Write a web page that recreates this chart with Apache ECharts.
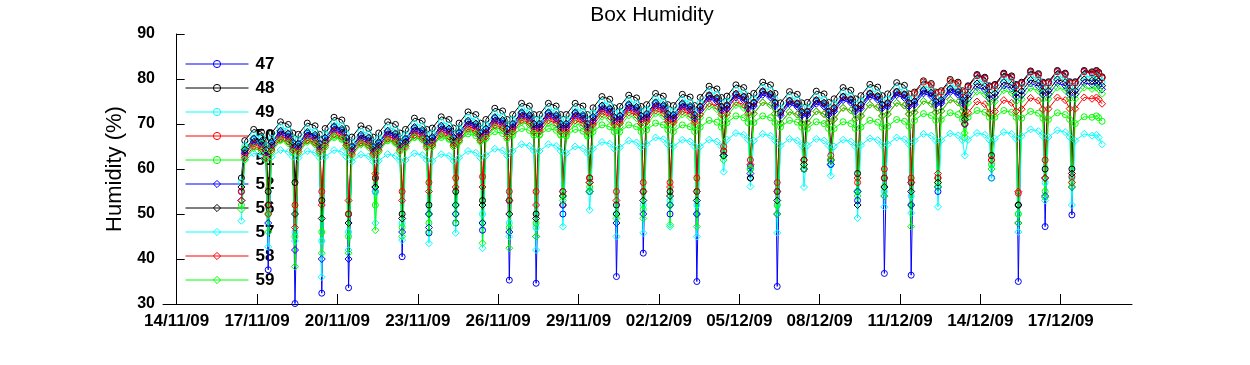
<!DOCTYPE html>
<html><head><meta charset="utf-8">
<script src="https://cdn.jsdelivr.net/npm/echarts@6/dist/echarts.min.js"></script>
<style>html,body{margin:0;padding:0;background:#fff;}#c{width:1250px;height:365px;}</style>
</head><body><div id="c"></div>
<script>
// x axis: days since 14/11/09 00:00
const xTickDays = [0,3,6,9,12,15,18,21,24,27,30,33];
const xTickLabels = ['14/11/09','17/11/09','20/11/09','23/11/09','26/11/09','29/11/09','02/12/09','05/12/09','08/12/09','11/12/09','14/12/09','17/12/09'];
const yTicks = [30,40,50,60,70,80,90];
// each row = one day (16/11 .. 18/12), values sampled at these hours of the day
const sampleHours = [4, 8, 10, 13, 21];
const firstDay = 2;

const s47 = [
[null,null,55,64.0,66.5],[65.9,64.0,37.6,65.7,68.2],[67.6,65.7,30.1,65.4,67.9],[67.3,65.4,32.4,66.7,69.2],
[68.6,66.7,33.6,64.8,67.3],[66.7,64.8,55,65.7,68.2],[67.6,65.7,40.5,66.5,69.0],[68.4,66.5,45.8,66.8,69.3],
[68.7,66.8,48,67.9,70.4],[69.8,67.9,46.4,68.7,71.2],[70.6,68.7,35.3,69.8,72.3],[71.7,69.8,34.6,69.8,72.3],
[71.7,69.8,50,69.8,72.3],[71.7,69.8,55,71.3,73.8],[73.2,71.3,36.1,71.6,74.1],[73.5,71.6,41.3,72.0,74.5],
[73.9,72.0,50,71.8,74.3],[73.7,71.8,35,73.6,76.1],[75.5,73.6,63,73.9,76.4],[75.8,73.9,60.6,74.5,77.0],
[76.4,74.5,33.9,72.4,74.9],[74.3,72.4,60,72.5,75.0],[74.4,72.5,61,73.3,75.8],[75.2,73.3,53,74.0,76.5],
[75.9,74.0,36.8,74.4,76.9],[76.3,74.4,36.4,74.8,77.3],[76.7,74.8,55,75.1,77.6],[77.0,75.1,70,78.3,80.8],
[80.2,78.3,58,78.6,81.1],[80.5,78.6,35,79.1,81.6],[81.0,79.1,47.2,79.2,81.7],[81.1,79.2,49.8,79.2,81.7],
[81.4,81.7,81.3,80.3,null]];
const s48 = [
[null,null,58,66.3,68.8],[68.2,66.3,55,68.0,70.5],[69.9,68.0,57,67.7,70.2],[69.6,67.7,53,69.0,71.5],
[70.9,69.0,50,67.1,69.6],[69.0,67.1,58,68.0,70.5],[69.9,68.0,50,68.8,71.3],[70.7,68.8,52,69.1,71.6],
[71.0,69.1,55,70.2,72.7],[72.1,70.2,53,71.0,73.5],[72.9,71.0,53,72.1,74.6],[74.0,72.1,50,72.1,74.6],
[74.0,72.1,55,72.1,74.6],[74.0,72.1,58,73.6,76.1],[75.5,73.6,52,73.9,76.4],[75.8,73.9,55,74.3,76.8],
[76.2,74.3,55,74.1,76.6],[76.0,74.1,55,75.9,78.4],[77.8,75.9,64,76.2,78.7],[78.1,76.2,58,76.8,79.3],
[78.7,76.8,55,74.7,77.2],[76.6,74.7,62,74.8,77.3],[76.7,74.8,62,75.6,78.1],[77.5,75.6,59,76.3,78.8],
[78.2,76.3,58,76.7,79.2],[78.6,76.7,57,77.1,79.6],[79.0,77.1,58,77.4,79.9],[79.3,77.4,72,78.5,81.0],
[80.4,78.5,63,78.8,81.3],[80.7,78.8,52,79.3,81.8],[81.2,79.3,60,79.4,81.9],[81.3,79.4,60,79.4,81.9],
[81.6,81.9,81.5,80.5,null]];
const s49 = [
[null,null,57,65.1,67.6],[67.0,65.1,50,66.8,69.3],[68.7,66.8,46,66.5,69.0],[68.4,66.5,44,67.8,70.3],
[69.7,67.8,46,65.9,68.4],[67.8,65.9,55,66.8,69.3],[68.7,66.8,48,67.6,70.1],[69.5,67.6,50,67.9,70.4],
[69.8,67.9,52,69.0,71.5],[70.9,69.0,50,69.8,72.3],[71.7,69.8,48,70.9,73.4],[72.8,70.9,47,70.9,73.4],
[72.8,70.9,52,70.9,73.4],[72.8,70.9,55,72.4,74.9],[74.3,72.4,50,72.7,75.2],[74.6,72.7,52,73.1,75.6],
[75.0,73.1,53,72.9,75.4],[74.8,72.9,52,74.7,77.2],[76.6,74.7,63,75.0,77.5],[76.9,75.0,60,75.6,78.1],
[77.5,75.6,52,73.5,76.0],[75.4,73.5,60,73.6,76.1],[75.5,73.6,61,74.4,76.9],[76.3,74.4,55,75.1,77.6],
[77.0,75.1,55,75.5,78.0],[77.4,75.5,54,75.9,78.4],[77.8,75.9,56,76.2,78.7],[78.1,76.2,71,77.3,79.8],
[79.2,77.3,61,77.6,80.1],[79.5,77.6,50,78.1,80.6],[80.0,78.1,57,78.2,80.7],[80.1,78.2,58,78.2,80.7],
[80.4,80.7,80.3,79.3,null]];
const s50 = [
[null,null,55,63.1,65.6],[65.0,63.1,52,64.8,67.3],[66.7,64.8,52,64.5,67.0],[66.4,64.5,55,65.8,68.3],
[67.7,65.8,50,63.9,66.4],[65.8,63.9,58,64.8,67.3],[66.7,64.8,55,65.6,68.1],[67.5,65.6,57,65.9,68.4],
[67.8,65.9,58,67.0,69.5],[68.9,67.0,58.3,67.8,70.3],[69.7,67.8,55,68.9,71.4],[70.8,68.9,55,68.9,71.4],
[70.8,68.9,52,68.9,71.4],[70.8,68.9,58,70.4,72.9],[72.3,70.4,55,70.7,73.2],[72.6,70.7,57,71.1,73.6],
[73.0,71.1,57,70.9,73.4],[72.8,70.9,58,73.9,76.4],[75.8,73.9,65,74.2,76.7],[76.1,74.2,62,74.8,77.3],
[76.7,74.8,57,72.7,75.2],[74.6,72.7,60,72.8,75.3],[74.7,72.8,63,73.6,76.1],[75.5,73.6,57,74.3,76.8],
[76.2,74.3,60,74.7,77.2],[76.6,74.7,58,76.8,79.3],[78.7,76.8,58,77.1,79.6],[79.0,77.1,72,78.2,80.7],
[80.1,78.2,62,78.5,81.0],[80.4,78.5,54.6,79.0,81.5],[80.9,79.0,62,79.1,81.6],[81.0,79.1,58.3,79.1,81.6],
[81.3,81.6,81.2,80.2,null]];
const s51 = [
[null,null,52,64.5,66.0],[65.6,64.5,50,65.0,66.5],[66.1,65.0,45,64.8,66.3],[65.9,64.8,46,65.5,67.0],
[66.6,65.5,45,64.3,65.8],[65.4,64.3,52,64.8,66.3],[65.9,64.8,47,65.5,67.0],[66.6,65.5,48,65.5,67.0],
[66.6,65.5,50,66.3,67.8],[67.4,66.3,48,66.8,68.3],[67.9,66.8,47,67.5,69.0],[68.6,67.5,48,67.5,69.0],
[68.6,67.5,54,67.3,68.8],[68.4,67.3,56,68.3,69.8],[69.4,68.3,50,68.3,69.8],[69.4,68.3,51,68.7,70.2],
[69.8,68.7,52,68.3,69.8],[69.4,68.3,50,69.3,70.8],[70.4,69.3,63,70.3,71.8],[71.4,70.3,60,70.3,71.8],
[71.4,70.3,52,69.3,70.8],[70.4,69.3,61,69.0,70.5],[70.1,69.0,62,69.0,70.5],[70.1,69.0,55,69.3,70.8],
[70.4,69.3,56,69.5,71.0],[70.6,69.5,52,70.8,72.3],[71.9,70.8,57,71.0,72.5],[72.1,71.0,67,71.5,73.0],
[72.6,71.5,61,71.5,73.0],[72.6,71.5,50,71.3,72.8],[72.4,71.3,55,71.0,72.5],[72.1,71.0,57,70.1,71.6],
[71.5,71.8,71.4,70.6,null]];
const s52 = [
[null,null,53,63.5,66.0],[65.4,63.5,48,65.2,67.7],[67.1,65.2,42,64.9,67.4],[66.8,64.9,40,66.2,68.7],
[68.1,66.2,40,64.3,66.8],[66.2,64.3,56,65.2,67.7],[67.1,65.2,46,66.0,68.5],[67.9,66.0,47,66.3,68.8],
[68.2,66.3,50,67.4,69.9],[69.3,67.4,48,68.2,70.7],[70.1,68.2,46,69.3,71.8],[71.2,69.3,45,69.3,71.8],
[71.2,69.3,52,69.3,71.8],[71.2,69.3,55,70.8,73.3],[72.7,70.8,48,71.1,73.6],[73.0,71.1,50,71.5,74.0],
[73.4,71.5,52,71.3,73.8],[73.2,71.3,50,73.1,75.6],[75.0,73.1,63,73.4,75.9],[75.3,73.4,59,74.0,76.5],
[75.9,74.0,50,71.9,74.4],[73.8,71.9,60,72.0,74.5],[73.9,72.0,61,72.8,75.3],[74.7,72.8,55,73.5,76.0],
[75.4,73.5,54,73.9,76.4],[75.8,73.9,52,74.3,76.8],[76.2,74.3,56,74.6,77.1],[76.5,74.6,70,75.7,78.2],
[77.6,75.7,60,76.0,78.5],[77.9,76.0,48,76.5,79.0],[78.4,76.5,54,76.6,79.1],[78.5,76.6,56,76.6,79.1],
[78.8,79.1,78.7,77.7,null]];
const s56 = [
[null,null,56,64.3,66.8],[66.2,64.3,52,66.0,68.5],[67.9,66.0,50,65.7,68.2],[67.6,65.7,49,67.0,69.5],
[68.9,67.0,48,65.1,67.6],[67.0,65.1,56,66.0,68.5],[67.9,66.0,49,66.8,69.3],[68.7,66.8,50,67.1,69.6],
[69.0,67.1,52,68.2,70.7],[70.1,68.2,52,69.0,71.5],[70.9,69.0,50,70.1,72.6],[72.0,70.1,49,70.1,72.6],
[72.0,70.1,54,70.1,72.6],[72.0,70.1,57,71.6,74.1],[73.5,71.6,50,71.9,74.4],[73.8,71.9,53,72.3,74.8],
[74.2,72.3,54,72.1,74.6],[74.0,72.1,53,73.9,76.4],[75.8,73.9,63,74.2,76.7],[76.1,74.2,58,74.8,77.3],
[76.7,74.8,53,72.7,75.2],[74.6,72.7,61,72.8,75.3],[74.7,72.8,62,73.6,76.1],[75.5,73.6,52,74.3,76.8],
[76.2,74.3,56,74.7,77.2],[76.6,74.7,55,75.1,77.6],[77.0,75.1,57,75.4,77.9],[77.3,75.4,71,76.5,79.0],
[78.4,76.5,62,76.8,79.3],[78.7,76.8,52,77.3,79.8],[79.2,77.3,58,77.4,79.9],[79.3,77.4,59,77.4,79.9],
[79.6,79.9,79.5,78.5,null]];
const s57 = [
[null,null,48.5,62.0,63.5],[63.1,62.0,42.7,62.7,64.2],[63.8,62.7,44,62.5,64.0],[63.6,62.5,36,62.7,64.2],
[63.8,62.7,42,61.7,63.2],[62.8,61.7,48,61.8,63.3],[62.9,61.8,44.2,62.0,63.5],[63.1,62.0,43.5,61.8,63.3],
[62.9,61.8,45.8,62.5,64.0],[63.6,62.5,42.4,63.0,64.5],[64.1,63.0,45,64.0,65.5],[65.1,64.0,42,64.0,65.5],
[65.1,64.0,47.2,63.5,65.0],[64.6,63.5,50.9,64.5,66.0],[65.6,64.5,45,64.8,66.3],[65.9,64.8,45.8,65.5,67.0],
[66.6,65.5,47.2,65.0,66.5],[66.1,65.0,45,65.0,66.5],[66.1,65.0,59.4,66.5,68.0],[67.6,66.5,56.1,66.3,67.8],
[67.4,66.3,45.8,65.2,66.7],[66.3,65.2,56,65.2,66.7],[66.3,65.2,58.5,65.0,66.5],[66.1,65.0,49.1,65.3,66.8],
[66.4,65.3,51.6,65.5,67.0],[66.6,65.5,50.2,66.3,67.8],[67.4,66.3,51.6,66.4,67.9],[67.5,66.4,63,66.5,68.0],
[67.6,66.5,57.9,66.7,68.2],[67.8,66.7,46,67.3,68.8],[68.4,67.3,53,67.1,68.6],[68.2,67.1,52,66.3,67.8],
[67.4,67.6,67.0,65.5,null]];
const s58 = [
[null,null,53,62.5,65.0],[64.4,62.5,50,64.2,66.7],[66.1,64.2,47,63.9,66.4],[65.8,63.9,52,65.2,67.7],
[67.1,65.2,53,63.3,65.8],[65.2,63.3,59,64.2,66.7],[66.1,64.2,53,65.0,67.5],[66.9,65.0,55,65.3,67.8],
[67.2,65.3,56,66.4,68.9],[68.3,66.4,56,67.2,69.7],[69.1,67.2,53,68.3,70.8],[70.2,68.3,52,68.3,70.8],
[70.2,68.3,55,68.3,70.8],[70.2,68.3,57,69.8,72.3],[71.7,69.8,53,70.1,72.6],[72.0,70.1,55,70.5,73.0],
[72.4,70.5,56,70.3,72.8],[72.2,70.3,55,72.1,74.6],[74.0,72.1,64,72.4,74.9],[74.3,72.4,61,72.3,74.8],
[74.2,72.3,55,70.2,72.7],[72.1,70.2,62,70.3,72.8],[72.2,70.3,62,71.1,73.6],[73.0,71.1,58,71.8,74.3],
[73.7,71.8,58,72.2,74.7],[74.1,72.2,57,72.6,75.1],[74.5,72.6,59,72.9,75.4],[74.8,72.9,70,72.5,75.0],
[74.4,72.5,62,72.8,75.3],[74.7,72.8,55,73.3,75.8],[75.2,73.3,58,73.4,75.9],[75.3,73.4,57,73.4,75.9],
[75.6,75.9,75.5,74.5,null]];
const s59 = [
[null,null,51,62.1,64.6],[64.0,62.1,46,63.8,66.3],[65.7,63.8,38.3,63.5,66.0],[65.4,63.5,41.3,64.8,67.3],
[66.7,64.8,41.3,62.9,65.4],[64.8,62.9,46.4,63.8,66.3],[65.7,63.8,45,64.6,67.1],[66.5,64.6,46,64.9,67.4],
[66.8,64.9,48,66.0,68.5],[67.9,66.0,43.5,66.8,69.3],[68.7,66.8,42.4,67.9,70.4],[69.8,67.9,45,67.6,70.1],
[69.5,67.6,53,67.6,70.1],[69.5,67.6,55,69.1,71.6],[71.0,69.1,49,69.4,71.9],[71.3,69.4,49,69.8,72.3],
[71.7,69.8,47.6,69.6,72.1],[71.5,69.6,47.2,71.4,73.9],[73.3,71.4,62,71.7,74.2],[73.6,71.7,60,72.3,74.8],
[74.2,72.3,50,70.2,72.7],[72.1,70.2,60,70.3,72.8],[72.2,70.3,62,71.1,73.6],[73.0,71.1,54,71.8,74.3],
[73.7,71.8,54,72.2,74.7],[74.1,72.2,47.2,72.6,75.1],[74.5,72.6,56,72.9,75.4],[74.8,72.9,68,74.7,77.2],
[76.6,74.7,60,75.0,77.5],[76.9,75.0,48,75.5,78.0],[77.4,75.5,53.7,75.6,78.1],[77.5,75.6,56,75.6,78.1],
[77.8,78.1,77.7,76.7,null]];

const seriesNames = ['47','48','49','50','51','52','56','57','58','59'];
const seriesData = [s47,s48,s49,s50,s51,s52,s56,s57,s58,s59];
const seriesColors = ['#0000ff','#000000','#00ffff','#ff0000','#00ff00','#0000ff','#000000','#00ffff','#ff0000','#00ff00'];
const seriesSymbols = ['circle','circle','circle','circle','circle','diamond','diamond','diamond','diamond','diamond'];

function toPoints(rows){
  const out = [];
  rows.forEach((row, i) => {
    row.forEach((v, j) => {
      if (v !== null) out.push([firstDay + i + sampleHours[j] / 24, v]);
    });
  });
  return out;
}

const FONT = 'Liberation Sans, Arial, sans-serif';
const clear = 'rgba(255,255,255,0)';
const chart = echarts.init(document.getElementById('c'), null, {renderer: 'canvas'});
chart.setOption({
  animation: false,
  backgroundColor: '#ffffff',
  title: {
    text: 'Box Humidity', left: 647, top: 0, textAlign: 'center',
    textStyle: {fontFamily: FONT, fontSize: 21, fontWeight: 'normal', color: '#000'}
  },
  legend: {
    orient: 'vertical', left: 185, top: 55.5, z: 1, padding: 0,
    itemWidth: 63, itemHeight: 9, itemGap: 7,
    data: seriesNames.map((n, i) => ({
      name: n,
      lineStyle: {color: seriesColors[i], width: 1},
      itemStyle: {color: clear, borderColor: seriesColors[i], borderWidth: 1}
    })),
    textStyle: {fontFamily: FONT, fontSize: 17, fontWeight: 'bold', color: '#000', padding: [0,0,0,2]}
  },
  grid: {left: 163, right: 118, top: 34, bottom: 61, containLabel: false},
  xAxis: {
    type: 'value', min: -0.51, max: 35.66,
    axisLine: {lineStyle: {color: '#000', width: 1}},
    axisTick: {inside: true, length: 10, customValues: xTickDays, lineStyle: {color: '#000'}},
    axisLabel: {
      customValues: xTickDays, margin: 9, color: '#000',
      fontFamily: FONT, fontSize: 17, fontWeight: 'bold',
      formatter: v => { const i = xTickDays.indexOf(Math.round(v)); return i >= 0 ? xTickLabels[i] : ''; }
    },
    splitLine: {show: false}
  },
  yAxis: {
    type: 'value', min: yTicks[0], max: yTicks[yTicks.length - 1], interval: 10,
    name: 'Humidity (%)', nameLocation: 'middle', nameGap: 30, nameRotate: 90,
    nameTextStyle: {fontFamily: FONT, fontSize: 22, fontWeight: 'normal', color: '#000'},
    axisLine: {show: true, lineStyle: {color: '#000', width: 1}},
    axisTick: {show: true, inside: true, length: 8, lineStyle: {color: '#000'}},
    axisLabel: {margin: 8, color: '#000', fontFamily: FONT, fontSize: 16, fontWeight: 'bold'},
    splitLine: {show: false}
  },
  series: seriesNames.map((name, i) => ({
    name: name, type: 'line', z: 2,
    data: toPoints(seriesData[i]),
    color: seriesColors[i],
    symbol: seriesSymbols[i],
    symbolSize: seriesSymbols[i] === 'circle' ? 6 : 7,
    showAllSymbol: true,
    lineStyle: {color: seriesColors[i], width: 1},
    itemStyle: {color: clear, borderColor: seriesColors[i], borderWidth: 1},
    emphasis: {disabled: true}
  }))
});
</script></body></html>
